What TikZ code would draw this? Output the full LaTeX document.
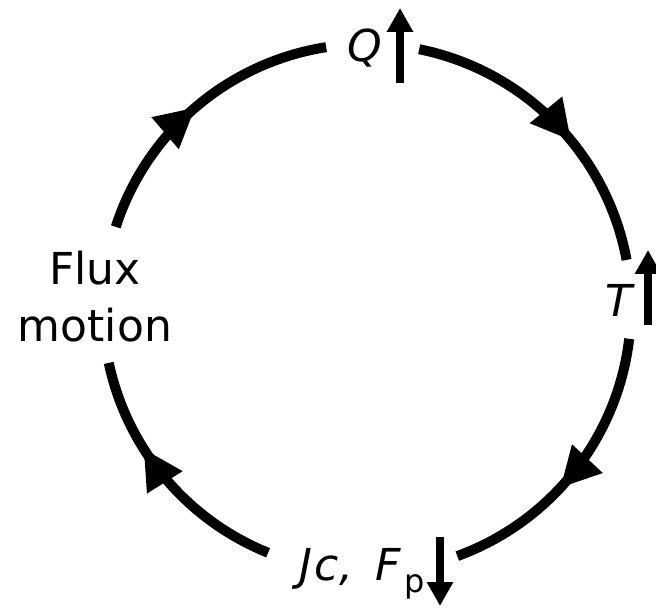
\documentclass[tikz,border=0pt]{standalone}
\usepackage{fontspec}
\setmainfont{DejaVu Sans}
\usepackage{tikz}
\usetikzlibrary{arrows.meta,decorations.markings}
\tikzset{
  lbl/.style  ={inner sep=0pt, outer sep=0pt, font=\fontsize{44}{57}\selectfont},
  loop/.style ={line width=10pt, line cap=butt},
  flow/.style ={loop, postaction={decorate},
                decoration={markings, mark=at position #1 with
                  {\arrow{Triangle[length=40pt,width=39pt]}}}},
  trend/.style={-{Triangle[length=24pt,width=25pt]}, line width=8.5pt},
}
\newcommand{\rad}{264}

\begin{document}
\begin{tikzpicture}[x=1pt,y=1pt]
  \useasboundingbox (0,0) rectangle (656,608);
  \coordinate (c) at (367,300);
  % labels
  \node[lbl, anchor=base west] (q) at (347,546) {\itshape Q};
  \node[lbl, anchor=base west] (t) at (605,291) {\itshape T};
  \node[lbl, anchor=base west] (jc) at (299,28)
    {\itshape J\kern3pt c,\kern22pt F\kern4pt\raisebox{-13pt}{\upshape\fontsize{32}{32}\selectfont p}};
  \node[lbl, anchor=base, align=center] (flux) at (95,266) {Flux\\motion};
  % trend arrows
  \coordinate (qa) at (400,525);
  \coordinate (qb) at (400,600);
  \coordinate (ta) at (648,283);
  \coordinate (tb) at (648,358);
  \coordinate (ja) at (440,71);
  \coordinate (jb) at (440,2);
  \draw[trend] (qa) -- (qb);
  \draw[trend] (ta) -- (tb);
  \draw[trend] (ja) -- (jb);
  % cycle
  \draw[flow=0.5]   ([shift={(162.1:\rad)}]c) arc[start angle=162.1, end angle=98.9, radius=\rad];
  \draw[flow=0.577] ([shift={(78.6:\rad)}]c)  arc[start angle=78.6, end angle=10.5, radius=\rad];
  \draw[flow=0.573] ([shift={(-6.7:\rad)}]c)  arc[start angle=-6.7, end angle=-70, radius=\rad];
  \draw[flow=0.64]  ([shift={(-112:\rad)}]c)  arc[start angle=-112, end angle=-168, radius=\rad];
\end{tikzpicture}
\end{document}
